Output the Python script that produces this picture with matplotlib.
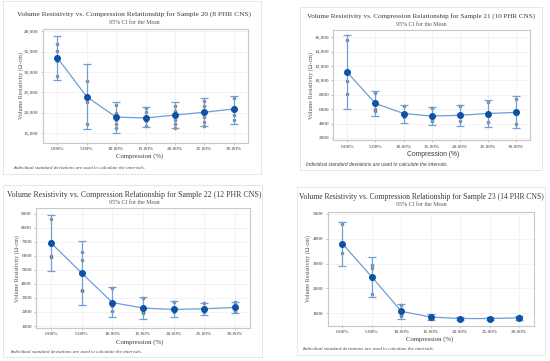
import matplotlib
matplotlib.use("Agg")
import matplotlib.pyplot as plt
from matplotlib.patches import Rectangle
from matplotlib.ticker import FuncFormatter

W, H = 550, 361

compression = ["0.00%", "5.00%", "10.00%", "15.00%", "20.00%", "25.00%", "30.00%"]

# Sample 20 (8 PHR CNS)
s20_mean = [33500, 23900, 18900, 18700, 19400, 20100, 20900]
s20_lo = [28100, 15900, 15100, 16400, 16100, 16700, 17200]
s20_hi = [38800, 31900, 22700, 21500, 22600, 23700, 24200]
s20_obs = [[36900, 35200, 33500, 32700, 29100],
           [27800, 22700, 17200],
           [21800, 20000, 18300, 17300, 16300],
           [21200, 20100, 19000, 17900, 16700],
           [21700, 20500, 18300, 17300, 16300],
           [22800, 21600, 19000, 17800, 16800],
           [23500, 21500, 19300, 18200]]

# Sample 21 (10 PHR CNS)
s21_mean = [11100, 6800, 5400, 5050, 5150, 5400, 5550]
s21_lo = [6000, 5050, 4150, 3800, 3650, 3550, 3350]
s21_hi = [16300, 8550, 6650, 6300, 6550, 7300, 7850]
s21_obs = [[15650, 9900, 8100],
           [8200, 7100, 6000, 5800],
           [6500, 5200, 4900],
           [6200, 5000, 4400],
           [6400, 5100, 4300],
           [7000, 5300, 4200],
           [7400, 5300, 3900]]

# Sample 22 (12 PHR CNS)
s22_mean = [6900, 4760, 2670, 2280, 2180, 2230, 2320]
s22_lo = [4940, 2470, 1620, 1500, 1640, 1790, 1930]
s22_hi = [8880, 7050, 3760, 3050, 2760, 2670, 2720]
s22_obs = [[8600, 7050, 6000, 5900],
           [6250, 5720, 3600, 3500],
           [3700, 2600, 2400, 2100],
           [3000, 2200, 2000, 1900],
           [2700, 2100, 2000],
           [2650, 2100, 2050, 2000],
           [2700, 2350, 2100]]

# Sample 23 (14 PHR CNS)
s23_mean = [3800, 2460, 1080, 850, 790, 790, 820]
s23_lo = [2920, 1640, 790, 740, 720, 720, 740]
s23_hi = [4680, 3280, 1370, 960, 860, 860, 900]
s23_obs = [[4600, 3420],
           [2940, 2810, 2380, 1770],
           [1350, 950, 900],
           [900, 800],
           [830, 760],
           [830, 760],
           [880, 780]]

titles = ["Volume Resistivity vs. Compression Relationship for Sample 20 (8 PHR CNS)",
          "Volume Resistivity vs. Compression Relationship for Sample 21 (10 PHR CNS)",
          "Volume Resistivity vs. Compression Relationship for Sample 22 (12 PHR CNS)",
          "Volume Resistivity vs. Compression Relationship for Sample 23 (14 PHR CNS)"]
subtitle = "95% CI for the Mean"
footnote = "Individual standard deviations are used to calculate the intervals."

SERIF = ["Liberation Serif", "DejaVu Serif"]
SANS = ["Liberation Sans", "DejaVu Sans"]
LINE = "#6a9fd8"
DOT = "#0b52a8"
TXT = "#3a3a3a"

fig = plt.figure(figsize=(W / 100, H / 100), dpi=100)
fig.patch.set_facecolor("white")


def fx(px):
    return px / W


def fy(py):
    return 1 - py / H


def draw_panel(frame, box, text_pos, data, ylim, yticks, title, note_family, tsize):
    mean, lo, hi, obs = data
    fl, ft, fr, fb = frame
    fig.patches.append(Rectangle((fx(fl), fy(fb)), fx(fr - fl), (fb - ft) / H,
                                 transform=fig.transFigure, fill=False,
                                 edgecolor="#e2e2e2", linewidth=0.6))
    l, t, r, b = box
    ax = fig.add_axes([fx(l), fy(b), fx(r - l), (b - t) / H])
    x = list(range(len(compression)))
    for i, vals in enumerate(obs):
        ax.plot([i] * len(vals), vals, "o", color="#6f6f6f", markersize=2.6,
                alpha=0.85, zorder=2, markeredgewidth=0)
    yerr = [[m - a for m, a in zip(mean, lo)], [c - m for m, c in zip(mean, hi)]]
    ax.errorbar(x, mean, yerr=yerr, fmt="none", ecolor=LINE, elinewidth=0.9,
                capsize=2.6, capthick=0.9, zorder=3)
    ax.plot(x, mean, "-", color=LINE, linewidth=0.9, zorder=3)
    ax.plot(x, mean, "o", color=DOT, markersize=4.0, zorder=4)
    ax.set_xlim(-0.5, 6.5)
    ax.set_ylim(*ylim)
    ax.set_xticks(x)
    ax.set_xticklabels(compression)
    ax.set_yticks(yticks)
    ax.yaxis.set_major_formatter(FuncFormatter(
        lambda v, p: f"{int(v):,}" if v >= 10000 else f"{int(v)}"))
    ax.tick_params(labelsize=3.8, length=1.5, width=0.4, colors="#999999",
                   labelcolor=TXT, pad=1.5)
    for lab in ax.get_xticklabels() + ax.get_yticklabels():
        lab.set_family(SERIF)
    ax.grid(True, color="#eeeeee", linewidth=0.5)
    ax.set_axisbelow(True)
    for s in ax.spines.values():
        s.set_color("#c8c8c8")
        s.set_linewidth(0.8)

    tx, ty, sty, ylx, xlx, xly, nx, ny = text_pos
    fig.text(fx(tx), fy(ty), title, ha="center", va="center", fontsize=tsize,
             family=SERIF, color=TXT)
    fig.text(fx(tx), fy(sty), subtitle, ha="center", va="center", fontsize=4.2,
             family=SERIF, color="#555555")
    fig.text(fx(ylx), fy((t + b) / 2), "Volume Resistivity (\u03a9-cm)",
             rotation=90, ha="center", va="center", fontsize=4.4, family=SERIF,
             color="#555555")
    fig.text(fx(xlx), fy(xly), "Compression (%)", ha="center", va="center",
             fontsize=4.9, family=note_family, color=TXT)
    fig.text(fx(nx), fy(ny), footnote, ha="left", va="center", fontsize=3.6,
             family=note_family, style="italic", color="#444444")
    return ax


draw_panel((3, 1, 261, 174), (42.7, 29, 248.3, 142.7),
           (134, 14.5, 22, 21, 140, 156.5, 13, 168),
           (s20_mean, s20_lo, s20_hi, s20_obs), (12600, 40600),
           [15000, 20000, 25000, 30000, 35000, 40000], titles[0], SERIF, 5.3)
draw_panel((300, 7, 542, 170), (333.3, 30, 530, 140.5),
           (421, 16, 24.3, 311.5, 433, 154.3, 305.7, 164.3),
           (s21_mean, s21_lo, s21_hi, s21_obs), (1650, 17000),
           list(range(2000, 16001, 2000)), titles[1], SANS, 5.1)
draw_panel((3, 185, 262, 357), (36, 208.3, 250, 328),
           (134, 195, 202.7, 17.5, 140, 342.3, 10, 351.7),
           (s22_mean, s22_lo, s22_hi, s22_obs), (860, 9380),
           list(range(1000, 9001, 1000)), titles[2], SERIF, 5.7)
draw_panel((297, 187, 545, 355), (327.7, 211.7, 534, 326),
           (421, 197.3, 204.3, 308.3, 430, 339.3, 301.7, 349.3),
           (s23_mean, s23_lo, s23_hi, s23_obs), (490, 5090),
           [1000, 2000, 3000, 4000, 5000], titles[3], SERIF, 5.5)

fig.savefig("out.png", dpi=100, facecolor="white")
